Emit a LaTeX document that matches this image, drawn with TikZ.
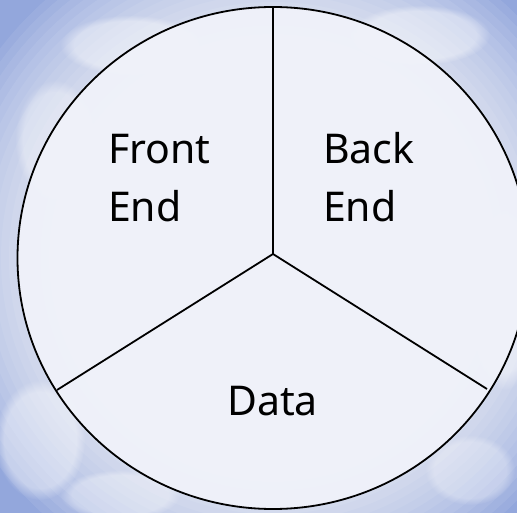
\documentclass[tikz,border=0pt]{standalone}
\usepackage{fontspec}
\setmainfont{Noto Sans}
\usetikzlibrary{fadings}
\definecolor{skyblue}{HTML}{93A7DC}
\definecolor{pieface}{HTML}{F0F2FA}
\tikzset{
  puff/.style={fill=white, path fading=circle with fuzzy edge 20 percent, opacity=#1},
  glow/.style={fill=white, opacity=0.08},
  piece/.style={draw=black, line width=1.8pt},
  label/.style={font=\fontsize{41}{58}\selectfont, text=black, inner sep=0pt, align=left}
}
\begin{document}
\begin{tikzpicture}[x=1pt, y=-1pt]
\useasboundingbox (0,0) rectangle (517,513);
\begin{scope}
\clip (0,0) rectangle (517,513);
\fill[skyblue] (0,0) rectangle (517,513);
\foreach \r in {200,208,...,344} {
  \fill[glow] (273,258) circle[radius=\r pt];
}
% cloud puffs
\fill[puff=0.4] (130,45) ellipse[x radius=70pt, y radius=30pt];
\fill[puff=0.35] (55,140) ellipse[x radius=40pt, y radius=60pt];
\fill[puff=0.4] (420,35) ellipse[x radius=70pt, y radius=30pt];
\fill[puff=0.45] (505,300) ellipse[x radius=35pt, y radius=90pt];
\fill[puff=0.4] (40,440) ellipse[x radius=45pt, y radius=60pt];
\fill[puff=0.35] (120,495) ellipse[x radius=60pt, y radius=25pt];
\fill[puff=0.3] (470,470) ellipse[x radius=45pt, y radius=35pt];
\end{scope}
% pie
\coordinate (c) at (273,258);
\fill[pieface, opacity=0.95] (c) ellipse[x radius=255.5pt, y radius=251pt];
\draw[piece] (c) ellipse[x radius=255.5pt, y radius=251pt];
\coordinate (hub) at (273,254);
\coordinate (top) at (273,7);
\coordinate (lft) at (57,390);
\coordinate (rgt) at (487,389);
\draw[piece] (hub) -- (top);
\draw[piece] (hub) -- (lft);
\draw[piece] (hub) -- (rgt);
\node[label, anchor=base west] (front) at (108,222) {Front\\End};
\node[label, anchor=base west] (back) at (323,222) {Back\\End};
\node[label, anchor=base] (data) at (272.5,415) {Data};
\end{tikzpicture}
\end{document}
